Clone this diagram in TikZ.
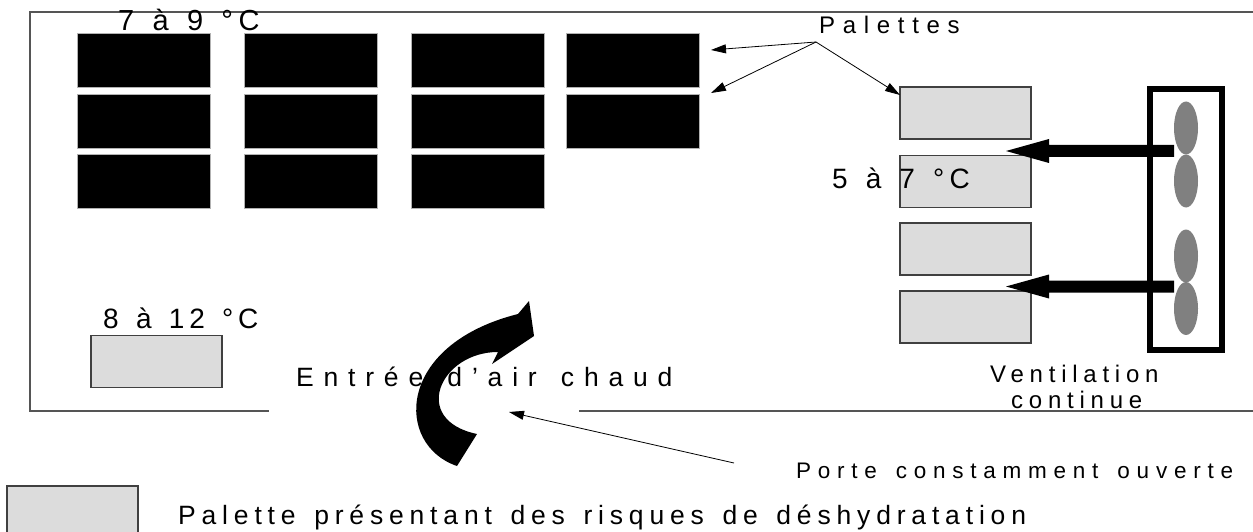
\documentclass[tikz,border=0pt]{standalone}
\usepackage{fontspec}
\setmainfont{Liberation Sans}
\usetikzlibrary{arrows.meta,shapes.geometric}
\definecolor{boxgray}{HTML}{DCDCDC}
\definecolor{boxedge}{HTML}{404040}
\definecolor{bladegray}{HTML}{808080}
\definecolor{wallgray}{HTML}{555555}
\newcommand\lsfont[3]{\fontsize{#1}{#1}\selectfont\addfontfeature{LetterSpace=#2}\spaceskip=#3\fontdimen2\font\relax}
\tikzset{
  lbl/.style={inner sep=0pt, anchor=base west, text=black},
  blackbox/.style={fill=black, draw=gray!60, line width=0.8pt, minimum width=133pt, minimum height=54pt, inner sep=0pt},
  graybox/.style={fill=boxgray, draw=boxedge, line width=1.1pt, minimum width=131pt, minimum height=52pt, inner sep=0pt},
  blade/.style={ellipse, fill=bladegray, minimum width=24pt, minimum height=53pt, inner sep=0pt},
  thinarrow/.style={line width=0.8pt, -{Triangle[length=15pt,width=9pt]}},
  wall/.style={draw=wallgray, line width=1.3pt},
  ventbox/.style={draw=black, line width=6pt, minimum width=71.5pt, minimum height=261pt, inner sep=0pt}
}
\begin{document}
\begin{tikzpicture}[x=1pt,y=-1pt]
\useasboundingbox (0,0) rectangle (1253,532);
% walls
\draw[wall] (1253,12) -- (30,12) -- (30,411) -- (269,411);
\draw[wall] (579,411) -- (1253,411);
% black pallets
\foreach \c/\x in {1/144,2/311,3/477.5}{
  \foreach \r/\y in {1/60.5,2/121,3/181}{
    \node[blackbox] (b\c\r) at (\x,\y) {};
  }
}
\node[blackbox] (b41) at (633,60.5) {};
\node[blackbox] (b42) at (633,121) {};
% gray pallets right
\node[graybox] (g1) at (965.5,113) {};
\node[graybox] (g2) at (965.5,181.5) {};
\node[graybox] (g3) at (965.5,249) {};
\node[graybox] (g4) at (965.5,317) {};
% gray pallet left
\node[graybox] (g5) at (156.5,361.5) {};
% legend box
\node[graybox] (leg) at (72.5,512) {};
% ventilation
\node[ventbox] (vent) at (1185.75,219.5) {};
\node[blade] (e1) at (1186,128) {};
\node[blade] (e2) at (1186,181) {};
\node[blade] (e3) at (1186,256) {};
\node[blade] (e4) at (1186,308.5) {};
% thick arrows
\fill (1174,145) -- (1049,145) -- (1049,139) -- (1006,151) -- (1049,163) -- (1049,157) -- (1174,157) -- cycle;
\fill (1174,280.5) -- (1049,280.5) -- (1049,274.5) -- (1006,286.5) -- (1049,298.5) -- (1049,292.5) -- (1174,292.5) -- cycle;
% curved arrow
\fill (457,466) .. controls (395,445) and (395,345) .. (518,314) -- (529,301) -- (534,336) -- (492,364) -- (498,352) .. controls (440,352) and (410,420) .. (477,434) -- cycle;
% texts
\node[lbl, font=\lsfont{29}{19}{1.35}] (t79) at (118,31) {7 à 9 °C};
\node[lbl, font=\lsfont{24}{32}{1}] (tpal) at (819,34) {Palettes};
\node[lbl, font=\lsfont{28}{19}{1.38}] (t57) at (832,188) {5 à 7 °C};
\node[lbl, font=\lsfont{28}{17}{1.38}] (t812) at (103,328) {8 à 12 °C};
\node[lbl, font=\lsfont{26.5}{37}{1.41}] (tair) at (296,386) {Entrée d’air chaud};
\node[lbl, font=\lsfont{24}{24}{1}] (tvent) at (990,382) {Ventilation};
\node[lbl, font=\lsfont{24}{24}{1}] (tcont) at (1011,408) {continue};
\node[lbl, font=\lsfont{22.5}{30}{1.46}] (tporte) at (796,478) {Porte constamment ouverte};
\node[lbl, font=\lsfont{26.5}{22}{1.41}] (tleg) at (178,524) {Palette présentant des risques de déshydratation};
% thin arrows
\coordinate (pal) at (816,42);
\coordinate (p1) at (711,50);
\coordinate (p2) at (711,93);
\coordinate (p3) at (900,95);
\draw[thinarrow] (pal) -- (p1);
\draw[thinarrow] (pal) -- (p2);
\draw[thinarrow] (pal) -- (p3);
\coordinate (porte) at (734,463);
\coordinate (door) at (509,412);
\draw[thinarrow] (porte) -- (door);
\end{tikzpicture}
\end{document}
